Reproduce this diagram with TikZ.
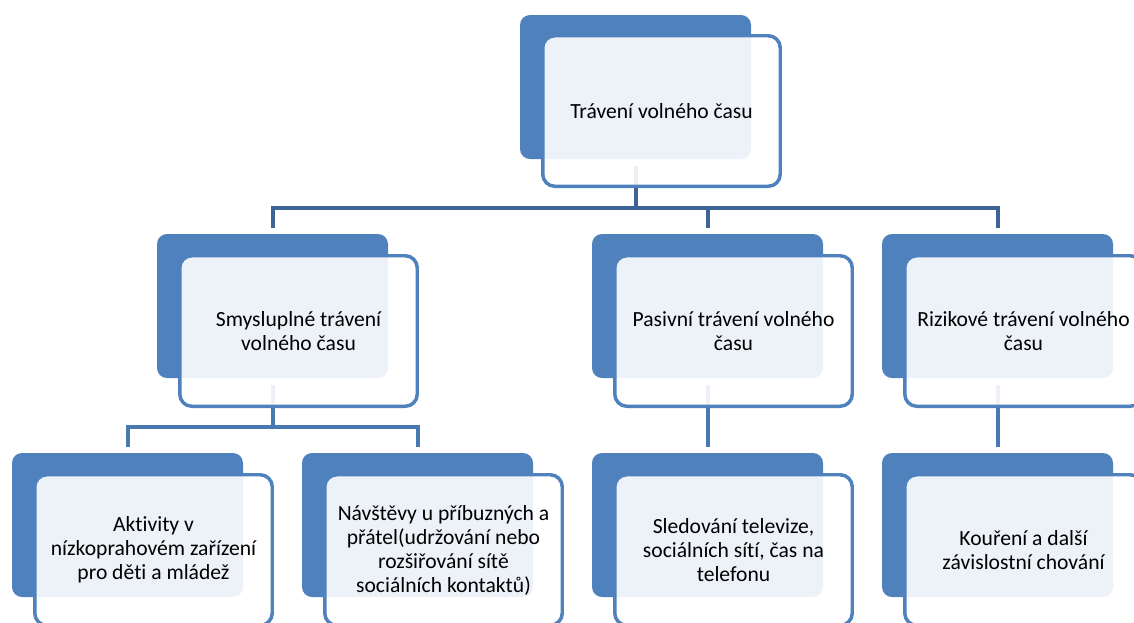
\documentclass[tikz,border=0pt]{standalone}
\usepackage{fontspec}
\setmainfont{Carlito}[Ligatures=NoCommon]
\usetikzlibrary{backgrounds}

\definecolor{boxblue}{RGB}{79,129,189}
\definecolor{linkdark}{RGB}{62,100,151}
\definecolor{linkblue}{RGB}{74,120,176}

\tikzset{every picture/.style={line width=0.75pt}}
\tikzset{
  backbox/.style={fill=boxblue, rounded corners=7.5pt, minimum width=173.25pt, minimum height=108pt, inner sep=0pt},
  frontbox/.style={draw=boxblue, line width=2.6pt, fill=white, fill opacity=0.9, text opacity=1, rounded corners=9pt, minimum width=178.1pt, minimum height=112.9pt, inner sep=0pt, align=center, font=\fontsize{16.2}{18}\selectfont},
  link/.style={draw=linkdark, line width=3pt, shorten <=4.5pt, shorten >=4.5pt},
  sublink/.style={link, draw=linkblue},
}

\begin{document}
\begin{tikzpicture}[x=0.75pt,y=0.75pt,yscale=-1,xscale=1]
\clip (0,0) rectangle (1134,622);

%Shape: Rounded Rect [top]
\node [backbox] (top-b) at (635.5,87) {};
% Text Node
\node [frontbox] (top) at (661.5,111) {Trávení volného času};

%Shape: Rounded Rect [level 2]
\node [backbox] (mean-b) at (272.5,306) {};
% Text Node
\node [frontbox] (mean) at (298.5,331) {Smysluplné trávení\\volného času};

\node [backbox] (pas-b) at (707.5,306) {};
% Text Node
\node [frontbox] (pas) at (733.5,331) {Pasivní trávení volného\\času};

\node [backbox] (riz-b) at (997.5,306) {};
% Text Node
\node [frontbox] (riz) at (1023.5,331) {Rizikové trávení volného\\času};

%Shape: Rounded Rect [level 3]
\node [backbox] (act-b) at (127.5,525) {};
% Text Node
\node [frontbox] (act) at (153.5,550) {Aktivity v\\nízkoprahovém zařízení\\pro děti a mládež};

\node [backbox] (vis-b) at (417.5,525) {};
% Text Node
\node [frontbox] (vis) at (443.5,550) {Návštěvy u příbuzných a\\přátel(udržování nebo\\rozšiřování sítě\\sociálních kontaktů)};

\node [backbox] (tv-b) at (707.5,525) {};
% Text Node
\node [frontbox] (tv) at (733.5,550) {Sledování televize,\\sociálních sítí, čas na\\telefonu};

\node [backbox] (kou-b) at (997.5,525) {};
% Text Node
\node [frontbox] (kou) at (1023.5,550) {Kouření a další\\závislostní chování};

%Connectors
\coordinate (bar1) at (635.5,208);
\coordinate (bar2) at (272.5,427);
\begin{scope}[on background layer]
\draw [link] (top-b.south) -- (top-b.south |- bar1) -| (mean-b.north);
\draw [link] (top-b.south) -- (top-b.south |- bar1) -| (pas-b.north);
\draw [link] (top-b.south) -- (top-b.south |- bar1) -| (riz-b.north);

\draw [sublink] (mean-b.south) -- (mean-b.south |- bar2) -| (act-b.north);
\draw [sublink] (mean-b.south) -- (mean-b.south |- bar2) -| (vis-b.north);
\draw [sublink] (pas-b.south) -- (tv-b.north);
\draw [sublink] (riz-b.south) -- (kou-b.north);
\end{scope}

\end{tikzpicture}
\end{document}
